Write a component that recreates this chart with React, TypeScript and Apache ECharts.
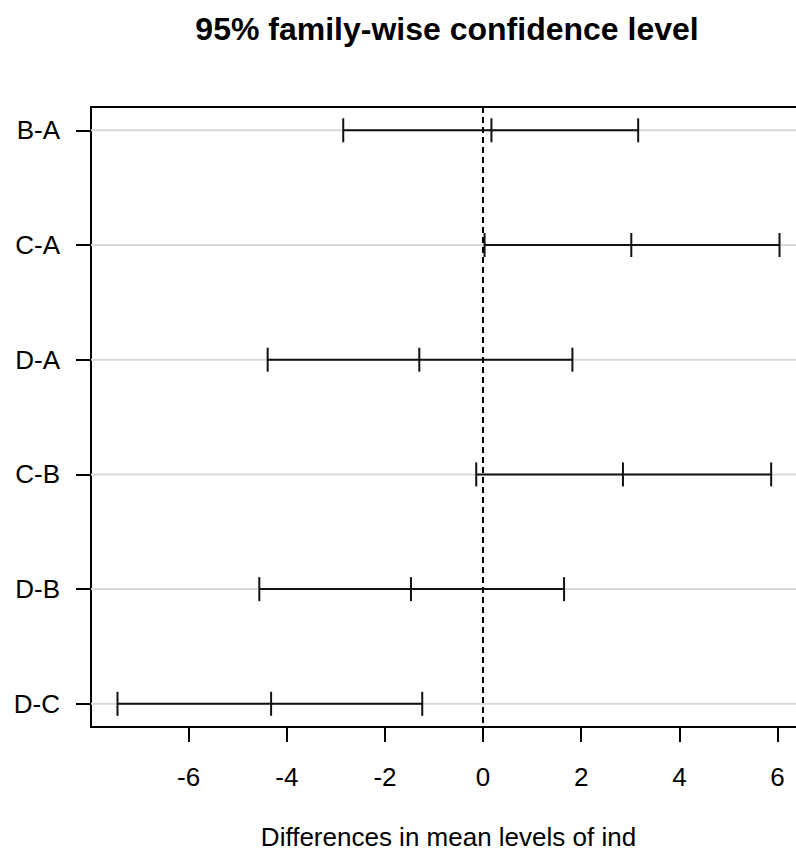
import React, { useEffect, useRef } from "react";
import * as echarts from "echarts";

const comparisons = ["B-A", "C-A", "D-A", "C-B", "D-B", "D-C"];
const diffs = [0.17, 3.02, -1.3, 2.85, -1.47, -4.32];
const lowers = [-2.85, 0.03, -4.39, -0.14, -4.56, -7.45];
const uppers = [3.16, 6.04, 1.82, 5.87, 1.65, -1.24];
const xTicks = [-6, -4, -2, 0, 2, 4, 6];
const titleText = "95% family-wise confidence level";
const xAxisTitle = "Differences in mean levels of ind";

const FONT = "'Liberation Sans', Arial, sans-serif";

export default function App() {
  const ref = useRef<HTMLDivElement>(null);
  useEffect(() => {
    if (!ref.current) return;
    const chart = echarts.init(ref.current, undefined, { renderer: "svg" });
    const rows = comparisons.map((_, i) => [i, lowers[i], diffs[i], uppers[i]]);
    const rowIdx = comparisons.map((_, i) => i);
    chart.setOption({
      animation: false,
      backgroundColor: "#ffffff",
      graphic: [
        {
          type: "text",
          x: 447,
          y: 28.5,
          style: {
            text: titleText,
            fill: "#000",
            font: `bold 32px ${FONT}`,
            textAlign: "center",
            textVerticalAlign: "middle",
          },
        },
      ],
      grid: {
        left: 91,
        top: 107,
        width: 715,
        height: 620,
        show: true,
        borderColor: "#000",
        borderWidth: 2,
        backgroundColor: "transparent",
        containLabel: false,
        outerBoundsMode: "none",
      },
      xAxis: {
        type: "value",
        min: -7.99,
        max: 6.58,
        name: xAxisTitle,
        nameLocation: "middle",
        nameGap: 97,
        nameTextStyle: { fontSize: 26, fontFamily: FONT, color: "#000", lineHeight: 26 },
        axisLine: { show: false, onZero: false },
        axisTick: {
          show: true,
          customValues: xTicks,
          length: 15,
          lineStyle: { color: "#000", width: 2 },
        },
        axisLabel: {
          customValues: xTicks,
          margin: 37,
          fontSize: 26,
          fontFamily: FONT,
          color: "#000",
        },
        splitLine: { show: false },
      },
      yAxis: {
        type: "value",
        inverse: true,
        min: -0.203,
        max: 5.202,
        axisLine: { show: false, onZero: false },
        axisTick: {
          show: true,
          customValues: rowIdx,
          length: 15,
          lineStyle: { color: "#000", width: 2 },
        },
        axisLabel: {
          customValues: rowIdx,
          margin: 31,
          fontSize: 26,
          fontFamily: FONT,
          color: "#000",
          formatter: (v: number) => comparisons[Math.round(v)] ?? "",
        },
        splitLine: { show: false },
      },
      series: [
        {
          type: "custom",
          data: rows,
          clip: false,
          renderItem: (params: any, api: any) => {
            const cs = params.coordSys;
            const i = api.value(0);
            const lo = api.coord([api.value(1), i]);
            const mid = api.coord([api.value(2), i]);
            const hi = api.coord([api.value(3), i]);
            const y = lo[1];
            const cap = 12;
            const lineStyle = { stroke: "#111", lineWidth: 2 };
            return {
              type: "group",
              children: [
                {
                  type: "line",
                  shape: { x1: cs.x, y1: y, x2: cs.x + cs.width, y2: y },
                  style: { stroke: "#d9d9d9", lineWidth: 2 },
                },
                {
                  type: "line",
                  shape: { x1: lo[0], y1: y, x2: hi[0], y2: y },
                  style: lineStyle,
                },
                {
                  type: "line",
                  shape: { x1: lo[0], y1: y - cap, x2: lo[0], y2: y + cap },
                  style: lineStyle,
                },
                {
                  type: "line",
                  shape: { x1: mid[0], y1: y - cap, x2: mid[0], y2: y + cap },
                  style: lineStyle,
                },
                {
                  type: "line",
                  shape: { x1: hi[0], y1: y - cap, x2: hi[0], y2: y + cap },
                  style: lineStyle,
                },
              ],
            };
          },
          markLine: {
            silent: true,
            symbol: "none",
            label: { show: false },
            lineStyle: { color: "#000", type: [6, 4], width: 2 },
            data: [{ xAxis: 0 }],
          },
        },
      ],
    });
    return () => chart.dispose();
  }, []);
  return (
    <div
      style={{
        position: "absolute",
        left: 0,
        top: 0,
        width: 796,
        height: 852,
        overflow: "hidden",
      }}
    >
      <div ref={ref} style={{ width: 820, height: 852 }} />
    </div>
  );
}
